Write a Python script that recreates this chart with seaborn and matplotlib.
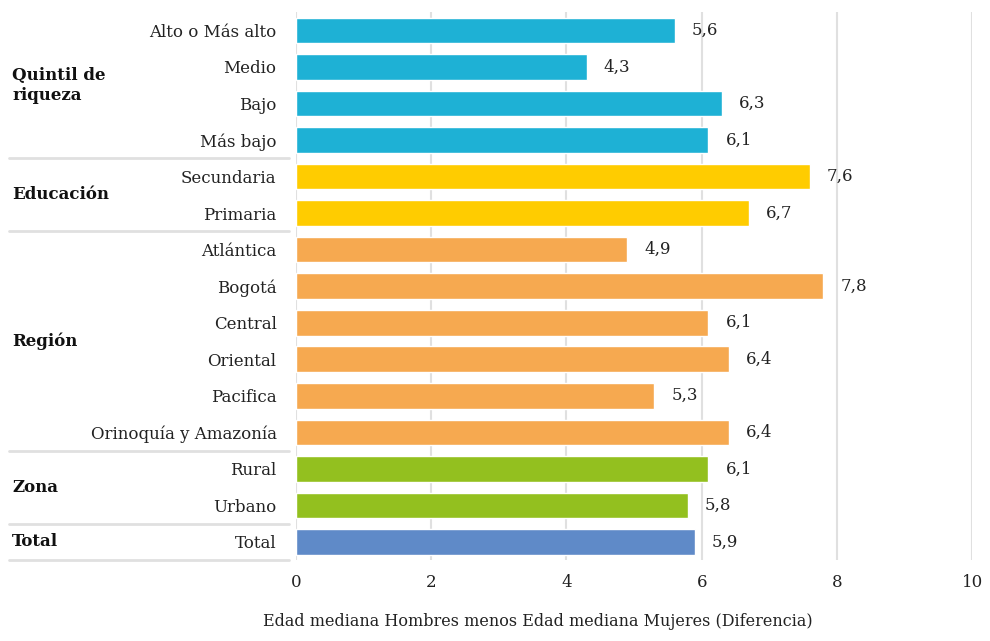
import matplotlib
matplotlib.use("Agg")
import matplotlib.pyplot as plt
import seaborn as sns
import pandas as pd

categories = ["Alto o Más alto","Medio","Bajo","Más bajo","Secundaria","Primaria",
              "Atlántica","Bogotá","Central","Oriental","Pacifica","Orinoquía y Amazonía",
              "Rural","Urbano","Total"]
values = [5.6,4.3,6.3,6.1,7.6,6.7,4.9,7.8,6.1,6.4,5.3,6.4,6.1,5.8,5.9]
groups = ["Quintil de riqueza"]*4 + ["Educación"]*2 + ["Región"]*6 + ["Zona"]*2 + ["Total"]
group_colors = {"Quintil de riqueza":"#1EB1D5","Educación":"#FFCC00","Región":"#F6A950",
                "Zona":"#93C01F","Total":"#5F8AC8"}
group_labels = ["Quintil de\nriqueza","Educación","Región","Zona","Total"]

df = pd.DataFrame({"cat":categories,"val":values,"grp":groups})
sns.set_style("white")
plt.rcParams['font.family'] = ['DejaVu Serif']
fig = plt.figure(figsize=(9.9,6.41), dpi=100)
ax = fig.add_axes([0.299,0.126,0.683,0.855])
sns.barplot(data=df, y="cat", x="val", hue="grp", palette=group_colors, dodge=False,
            legend=False, ax=ax, width=0.7, saturation=1, zorder=3)
ax.set_xlim(0,10)
ax.set_ylim(14.5,-0.5)
ax.set_xticks([0,2,4,6,8,10])
ax.tick_params(axis='x', labelsize=12, length=0, pad=10, colors='#222222')
ax.tick_params(axis='y', labelsize=12, length=0, pad=14, colors='#222222')
ax.grid(axis='x', color='#e0e0e0', lw=1.5, zorder=0)
for s in ax.spines.values(): s.set_visible(False)
ax.set_ylabel("")
ax.set_xlabel("")
fig.text(0.543, 0.017, "Edad mediana Hombres menos Edad mediana Mujeres (Diferencia)",
         fontsize=11.5, ha='center', va='bottom', color='#222222')
for i,v in enumerate(values):
    ax.text(v+0.25, i, f"{v:.1f}".replace(".",","), va='center', ha='left', fontsize=12, color='#222222')
starts = [0,4,6,12,14,15]
trans = ax.get_yaxis_transform()
for k,lab in enumerate(group_labels):
    mid = (starts[k]+starts[k+1]-1)/2
    ax.text(-0.42, mid, lab, transform=trans, fontsize=12, fontweight='bold', va='center', ha='left', color='#111111')
for b in starts[1:]:
    ax.plot([-0.425,-0.01],[b-0.5,b-0.5], transform=trans, color='#e0e0e0', lw=2, clip_on=False)
fig.savefig("out.png", dpi=100)
